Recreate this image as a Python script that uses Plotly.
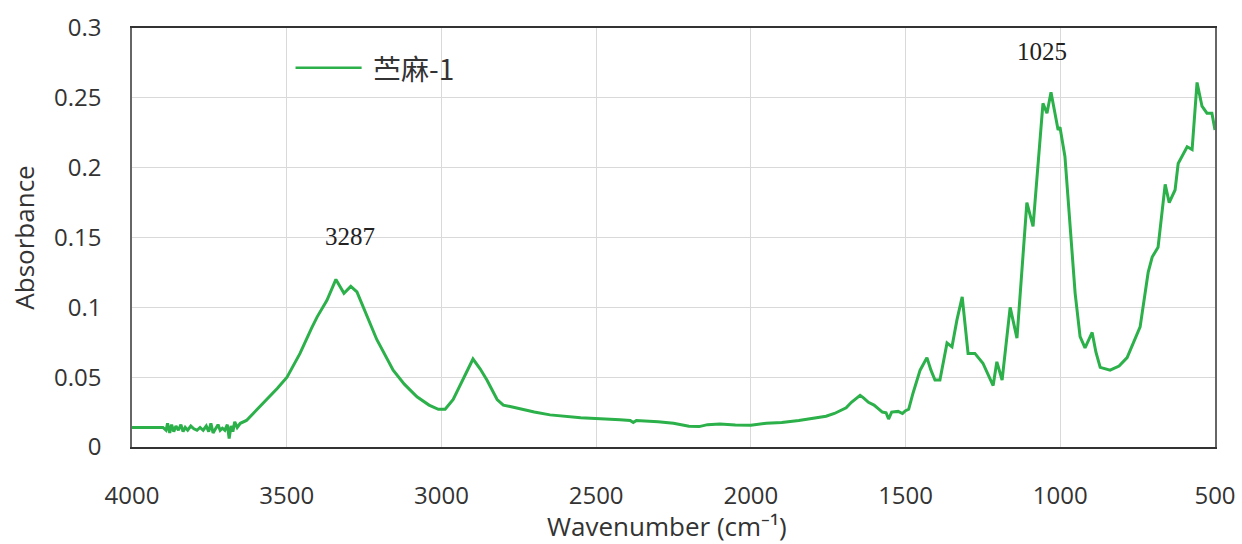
import plotly.graph_objects as go

# 苎麻-1 FTIR spectrum
wavenumber = [
    4000, 3960, 3930, 3900, 3890, 3885, 3878, 3872, 3865, 3858, 3850, 3842,
    3835, 3828, 3820, 3810, 3800, 3790, 3780, 3770, 3760, 3752, 3745, 3738,
    3730, 3722, 3715, 3708, 3700, 3692, 3686, 3680, 3674, 3668, 3660, 3650,
    3630, 3600, 3564, 3530, 3499, 3457, 3420, 3402, 3370, 3341, 3315, 3293,
    3273, 3253, 3209, 3156, 3120, 3079, 3040, 3010, 2988, 2962, 2930, 2898,
    2875, 2853, 2820, 2800, 2778, 2700, 2649, 2550, 2423, 2390, 2380, 2370,
    2300, 2250, 2200, 2167, 2140, 2100, 2050, 2000, 1950, 1900, 1845, 1800,
    1757, 1730, 1710, 1692, 1675, 1660, 1647, 1635, 1620, 1602, 1585, 1575,
    1563, 1555, 1545, 1524, 1510, 1500, 1490, 1476, 1453, 1431, 1418, 1405,
    1389, 1366, 1350, 1334, 1317, 1298, 1276, 1250, 1217, 1205, 1188, 1162,
    1140, 1108, 1088, 1056, 1043, 1030, 1007, 1001, 985, 968, 952, 936,
    920, 897, 885, 871, 839, 810, 784, 742, 716, 703, 684, 661,
    648, 629, 619, 590, 574, 558, 542, 526, 510, 500,
]
absorbance = [
    0.014, 0.014, 0.0135, 0.014, 0.012, 0.017, 0.010, 0.016, 0.011, 0.015, 0.012, 0.016,
    0.011, 0.014, 0.012, 0.015, 0.013, 0.012, 0.014, 0.012, 0.015, 0.011, 0.017, 0.010,
    0.013, 0.016, 0.012, 0.0135, 0.012, 0.016, 0.006, 0.015, 0.011, 0.018, 0.014, 0.017,
    0.019, 0.026, 0.034, 0.042, 0.050, 0.067, 0.085, 0.093, 0.105, 0.120, 0.110, 0.115,
    0.111, 0.100, 0.077, 0.055, 0.045, 0.036, 0.030, 0.027, 0.027, 0.034, 0.048, 0.063,
    0.056, 0.048, 0.034, 0.030, 0.029, 0.025, 0.023, 0.021, 0.0195, 0.019, 0.0175, 0.019,
    0.018, 0.017, 0.0148, 0.0146, 0.016, 0.0165, 0.0158, 0.0155, 0.017, 0.0175, 0.019, 0.0205,
    0.022, 0.024, 0.026, 0.028, 0.032, 0.035, 0.037, 0.035, 0.032, 0.030, 0.027, 0.025,
    0.0245, 0.020, 0.025, 0.0255, 0.024, 0.026, 0.027, 0.0385, 0.055, 0.064, 0.055, 0.048,
    0.048, 0.0745, 0.0717, 0.091, 0.1075, 0.067, 0.067, 0.060, 0.044, 0.061, 0.048, 0.100,
    0.078, 0.175, 0.158, 0.246, 0.239, 0.254, 0.227, 0.229, 0.208, 0.158, 0.110, 0.079,
    0.071, 0.082, 0.068, 0.057, 0.055, 0.058, 0.064, 0.086, 0.125, 0.136, 0.143, 0.188,
    0.175, 0.184, 0.203, 0.215, 0.213, 0.261, 0.244, 0.239, 0.239, 0.227,
]

series_name = "苎麻-1"
peak_labels = ["3287", "1025"]
peak_x = [3295, 1059]
peak_y = [0.151, 0.283]

line_color = "#2bb04a"

fig = go.Figure()
fig.add_trace(go.Scatter(x=wavenumber, y=absorbance, mode="lines", name=series_name,
                         line=dict(color=line_color, width=3), showlegend=False))

for txt, px, py in zip(peak_labels, peak_x, peak_y):
    fig.add_annotation(x=px, y=py, text=txt, showarrow=False,
                       font=dict(family="Liberation Serif", size=25, color="#222"))

# legend drawn by hand so the key line is as long as in the original
fig.add_shape(type="line", xref="paper", yref="paper", x0=0.151, x1=0.212, y0=0.905, y1=0.905,
              line=dict(color=line_color, width=2.5))
fig.add_annotation(xref="paper", yref="paper", x=0.221, y=0.905, xanchor="left", yanchor="middle",
                   text=series_name, showarrow=False,
                   font=dict(family="Noto Sans CJK SC", size=28, color="#333"))

tick_font = dict(family="Open Sans", size=24, color="#333")
title_font = dict(family="Open Sans", size=26, color="#333")

# x title as an annotation, the axis title ignores ticklabelstandoff
fig.add_annotation(xref="paper", yref="paper", x=0.494, y=-0.188, xanchor="center", yanchor="middle",
                   text="Wavenumber (cm⁻¹)", showarrow=False, font=title_font)

fig.update_xaxes(range=[4000, 500], dtick=500, tick0=0, showgrid=True, gridcolor="#d9d9d9",
                 showline=True, linecolor="#333", linewidth=1.5, mirror=True,
                 zeroline=False, ticks="", ticklabelstandoff=26, tickfont=tick_font,
                 ticklabeloverflow="allow", automargin=False)
fig.update_yaxes(range=[0, 0.3], dtick=0.05, showgrid=True, gridcolor="#d9d9d9",
                 showline=True, linecolor="#666", linewidth=1.5, mirror=True,
                 zeroline=False, ticks="", ticklabelstandoff=24, tickfont=tick_font,
                 automargin=False,
                 title=dict(text="Absorbance", font=title_font, standoff=12))

fig.update_layout(width=1242, height=544, template="plotly_white",
                  margin=dict(l=132, r=27, t=28, b=97, autoexpand=False),
                  paper_bgcolor="white", plot_bgcolor="white",
                  showlegend=False)

# drop the browser's default 8px body margin so the figure fills the window
fig.write_html("out.html", config={"displayModeBar": False},
               post_script="document.body.style.margin='0';")
